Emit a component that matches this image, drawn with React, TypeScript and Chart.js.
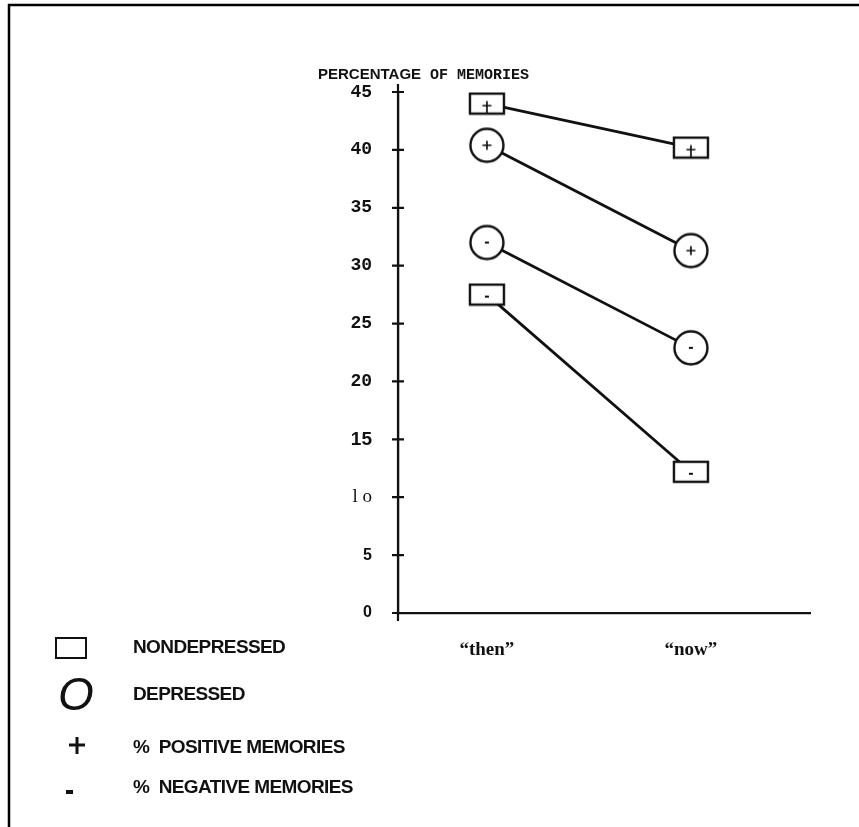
import React, { useEffect, useRef } from 'react';
import { Chart, registerables } from 'chart.js';

Chart.register(...registerables);

const categories = ['\u201Cthen\u201D', '\u201Cnow\u201D'];
const nondepressedPositive = [44.0, 40.2];
const depressedPositive = [40.4, 31.3];
const depressedNegative = [32.0, 22.9];
const nondepressedNegative = [27.5, 12.2];
const yTickValues = [0, 5, 10, 15, 20, 25, 30, 35, 40, 45];
const yTickLabels = ['0', '5', 'l o', '15', '20', '25', '30', '35', '40', '45'];
const titleParts = ['PERCENTAGE', ' OF MEMORIES'];
const legendLabels = ['NONDEPRESSED', 'DEPRESSED', '%  POSITIVE MEMORIES', '%  NEGATIVE MEMORIES'];

function makeMarker(shape: 'square' | 'circle', sign: '+' | '-'): HTMLCanvasElement {
  const c = document.createElement('canvas');
  const w = 38;
  const h = shape === 'square' ? 24 : 38;
  c.width = w;
  c.height = h;
  const g = c.getContext('2d')!;
  g.fillStyle = '#fff';
  g.strokeStyle = '#111';
  g.lineWidth = 2.4;
  const cx = w / 2;
  const cy = h / 2;
  if (shape === 'square') {
    g.fillRect(2, 2, 34, 20);
    g.strokeRect(2, 2, 34, 20);
  } else {
    g.beginPath();
    g.arc(cx, cy, 16.5, 0, Math.PI * 2);
    g.fill();
    g.stroke();
  }
  g.lineWidth = 1.7;
  g.beginPath();
  const oy = shape === 'square' ? 2 : 0;
  if (sign === '+') {
    g.moveTo(cx - 4.5, cy + oy);
    g.lineTo(cx + 4.5, cy + oy);
    g.moveTo(cx, cy + oy - 4.5);
    g.lineTo(cx, cy + oy + (shape === 'square' ? 7 : 4.5));
  } else {
    g.lineWidth = 2;
    g.moveTo(cx - 2, cy + oy);
    g.lineTo(cx + 2, cy + oy);
  }
  g.stroke();
  return c;
}

function yFont(v: number) {
  if (v >= 20) return { family: '"Liberation Mono", monospace', size: 18, weight: 'bold' as const };
  if (v === 15) return { family: '"Liberation Sans", Arial', size: 19, weight: 'bold' as const };
  if (v === 10) return { family: '"Liberation Serif", serif', size: 19, weight: 'normal' as const };
  return { family: '"Liberation Sans", Arial', size: 16, weight: 'bold' as const };
}

const decorPlugin = {
  id: 'decor',
  beforeDraw(chart: any) {
    const g = chart.ctx as CanvasRenderingContext2D;
    g.save();
    g.fillStyle = '#fff';
    g.fillRect(0, 0, chart.width, chart.height);
    g.strokeStyle = '#000';
    g.lineWidth = 2.5;
    g.beginPath();
    g.moveTo(8, 5);
    g.lineTo(chart.width, 5);
    g.moveTo(9, 4);
    g.lineTo(9, chart.height);
    g.stroke();
    g.restore();
  },
  afterDraw(chart: any) {
    const g = chart.ctx as CanvasRenderingContext2D;
    const area = chart.chartArea;
    const ys = chart.scales.y;
    g.save();
    g.strokeStyle = '#111';
    g.lineWidth = 2.2;
    g.beginPath();
    g.moveTo(area.left, area.top - 8);
    g.lineTo(area.left, area.bottom + 8);
    g.moveTo(area.left - 6, area.bottom);
    g.lineTo(area.left, area.bottom);
    ys.ticks.forEach((t: any) => {
      const py = ys.getPixelForValue(t.value);
      g.moveTo(area.left - 6, py);
      g.lineTo(area.left + 6, py);
    });
    g.stroke();

    // title
    g.fillStyle = '#111';
    g.textBaseline = 'middle';
    g.textAlign = 'left';
    let tx = area.left - 80;
    const ty = area.top - 17;
    g.font = 'bold 15px "Liberation Sans", Arial';
    g.fillText(titleParts[0], tx, ty);
    tx += g.measureText(titleParts[0]).width;
    g.font = 'bold 15px "Liberation Mono", monospace';
    g.fillText(titleParts[1], tx, ty);

    // legend
    const textX = 133;
    const rows = [648, 695, 748, 788];
    g.font = 'bold 19px "Liberation Sans", Arial';
    (g as any).letterSpacing = '-0.6px';
    legendLabels.forEach((lab, i) => {
      g.fillText(lab, textX, rows[i]);
    });
    (g as any).letterSpacing = '0px';
    g.lineWidth = 2;
    g.strokeStyle = '#111';
    g.strokeRect(56, rows[0] - 10, 30, 20);
    g.font = 'italic 46px "Liberation Sans", Arial';
    g.textAlign = 'center';
    g.fillText('O', 76, rows[1] + 2);
    g.lineWidth = 3;
    g.beginPath();
    g.moveTo(69, rows[2] - 3);
    g.lineTo(85, rows[2] - 3);
    g.moveTo(77, rows[2] - 11);
    g.lineTo(77, rows[2] + 6);
    g.stroke();
    g.fillRect(66, rows[3] + 2, 7, 4);
    g.restore();
  },
};

export default function App() {
  const ref = useRef<HTMLCanvasElement | null>(null);
  useEffect(() => {
    if (!ref.current) return;
    const sqP = makeMarker('square', '+');
    const sqN = makeMarker('square', '-');
    const ciP = makeMarker('circle', '+');
    const ciN = makeMarker('circle', '-');
    const toPts = (arr: number[]) => arr.map((v, i) => ({ x: i, y: v }));
    const mk = (label: string, data: number[], style: HTMLCanvasElement) => ({
      label,
      data: toPts(data),
      borderColor: '#111',
      borderWidth: 2.8,
      pointStyle: style,
      pointRadius: 18,
      fill: false,
      tension: 0,
      clip: false,
    });
    const chart = new Chart(ref.current, {
      type: 'line',
      data: {
        datasets: [
          mk('Nondepressed positive', nondepressedPositive, sqP),
          mk('Depressed positive', depressedPositive, ciP),
          mk('Depressed negative', depressedNegative, ciN),
          mk('Nondepressed negative', nondepressedNegative, sqN),
        ] as any,
      },
      options: {
        responsive: false,
        animation: false,
        layout: { padding: { top: 92, right: 49, bottom: 0, left: 0 } },
        plugins: { legend: { display: false }, tooltip: { enabled: false }, title: { display: false } },
        scales: {
          x: {
            type: 'linear',
            min: -0.436,
            max: 1.584,
            grid: { display: false, drawTicks: false },
            border: { display: true, color: '#111', width: 2.2 },
            afterBuildTicks: (s: any) => {
              s.ticks = categories.map((_, i) => ({ value: i }));
            },
            afterFit: (s: any) => {
              s.height = 827 - 613;
            },
            ticks: {
              padding: 26,
              color: '#111',
              font: { family: '"Liberation Serif", serif', size: 19, weight: 'bold' },
              callback: (v: any) => categories[Math.round(Number(v))] ?? '',
            },
          },
          y: {
            type: 'linear',
            min: 0,
            max: 45,
            grid: { display: false, drawTicks: false },
            border: { display: true, color: '#111', width: 2.2 },
            afterBuildTicks: (s: any) => {
              s.ticks = yTickValues.map((v) => ({ value: v }));
            },
            afterFit: (s: any) => {
              s.width = 398;
            },
            ticks: {
              padding: 26,
              color: '#111',
              font: (ctx: any) => yFont(ctx.tick ? ctx.tick.value : 0),
              callback: (v: any) => {
                const i = yTickValues.indexOf(Number(v));
                return i >= 0 ? yTickLabels[i] : '';
              },
            },
          },
        },
      },
      plugins: [decorPlugin],
    });
    return () => chart.destroy();
  }, []);
  return (
    <div style={{ position: 'fixed', left: 0, top: 0, width: 859, height: 827, background: '#fff' }}>
      <canvas ref={ref} width={859} height={827} style={{ display: 'block' }} />
    </div>
  );
}
